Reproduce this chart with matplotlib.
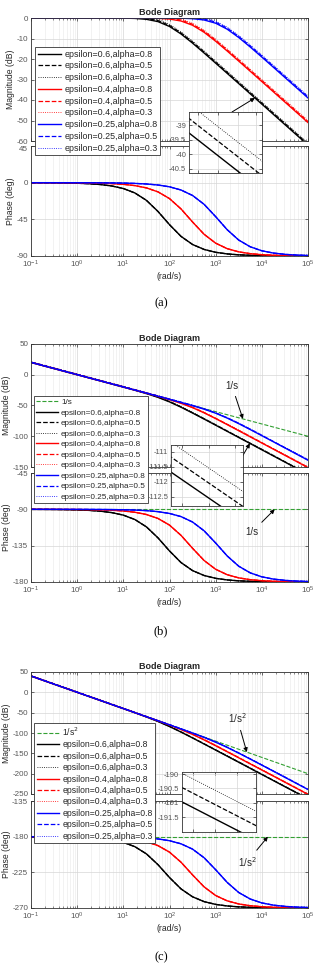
import numpy as np
import matplotlib.pyplot as plt
from matplotlib import ticker

plt.rcParams['font.family'] = ['Liberation Sans', 'DejaVu Sans']
plt.rcParams['axes.unicode_minus'] = False

# frequency grid (rad/s)
w = [0.1, 0.1778, 0.3162, 0.5623, 1, 1.778, 3.162, 5.623, 10, 17.78, 31.62, 56.23,
     100, 177.8, 316.2, 562.3, 1000, 1778, 3162, 5623, 10000, 17783, 31623, 56234, 100000]
xticks_main = [0.1, 1, 10, 100, 1000, 10000, 100000]

eps_list = [0.6, 0.4, 0.25]
alpha_list = [0.8, 0.5, 0.3]
alpha_shift_db = [0.0, 0.5, 1.0]   # gap between the alpha curves read in the zoom boxes

# (a) magnitude / phase
mag_a_e06 = [0, 0, 0, 0, 0, 0, -0.01, -0.02, -0.07, -0.21, -0.64, -1.76, -4.13, -7.79, -12.27,
             -17.09, -22.03, -27.01, -32.0, -37.0, -42.0, -47.0, -52.0, -57.0, -62.0]
mag_a_e04 = [0, 0, 0, 0, 0, 0, 0, 0, -0.01, -0.02, -0.05, -0.17, -0.52, -1.46, -3.54,
             -6.97, -11.33, -16.11, -21.03, -26.01, -31.0, -36.0, -41.0, -46.0, -51.0]
mag_a_e025 = [0, 0, 0, 0, 0, 0, 0, 0, 0, 0, 0, -0.01, -0.03, -0.11, -0.33,
              -0.97, -2.54, -5.46, -9.52, -14.17, -19.05, -24.02, -29.01, -34.0, -39.0]
ph_a_e06 = [-0.07, -0.13, -0.23, -0.41, -0.72, -1.28, -2.28, -4.05, -7.18, -12.62, -21.7, -35.3,
            -51.54, -65.93, -75.9, -81.96, -85.46, -87.44, -88.56, -89.19, -89.55, -89.74, -89.86, -89.92, -89.95]
ph_a_e04 = [-0.02, -0.04, -0.06, -0.11, -0.2, -0.36, -0.64, -1.14, -2.03, -3.61, -6.4, -11.28,
            -19.53, -32.25, -48.29, -63.38, -74.26, -80.99, -84.91, -87.13, -88.39, -89.09, -89.49, -89.71, -89.84]
ph_a_e025 = [-0.01, -0.01, -0.02, -0.03, -0.05, -0.09, -0.16, -0.29, -0.51, -0.91, -1.61, -2.87,
             -5.09, -9.01, -15.74, -26.62, -41.71, -57.75, -70.47, -78.72, -83.6, -86.39, -87.97, -88.86, -89.36]

# (b) with 1/s
mag_b_ref = [20, 15, 10, 5, 0, -5, -10, -15, -20, -25, -30, -35, -40, -45, -50,
             -55, -60, -65, -70, -75, -80, -85, -90, -95, -100]
ph_b_ref = [-90, -90, -90, -90, -90, -90, -90, -90, -90, -90, -90, -90, -90, -90, -90,
            -90, -90, -90, -90, -90, -90, -90, -90, -90, -90]
mag_b_e06 = [20, 15, 10, 5, 0, -5, -10.01, -15.02, -20.07, -25.21, -30.64, -36.76, -44.13, -52.79, -62.27,
             -72.09, -82.03, -92.01, -102.0, -112.0, -122.0, -132.0, -142.0, -152.0, -162.0]
mag_b_e04 = [20, 15, 10, 5, 0, -5, -10, -15, -20.01, -25.02, -30.05, -35.17, -40.52, -46.46, -53.54,
             -61.97, -71.33, -81.11, -91.03, -101.01, -111.0, -121.0, -131.0, -141.0, -151.0]
mag_b_e025 = [20, 15, 10, 5, 0, -5, -10, -15, -20, -25, -30, -35.01, -40.03, -45.11, -50.33,
              -55.97, -62.54, -70.46, -79.52, -89.17, -99.05, -109.02, -119.01, -129.0, -139.0]
ph_b_e06 = [-90.07, -90.13, -90.23, -90.41, -90.72, -91.28, -92.28, -94.05, -97.18, -102.62, -111.7, -125.3,
            -141.54, -155.93, -165.9, -171.96, -175.46, -177.44, -178.56, -179.19, -179.55, -179.74, -179.86, -179.92, -179.95]
ph_b_e04 = [-90.02, -90.04, -90.06, -90.11, -90.2, -90.36, -90.64, -91.14, -92.03, -93.61, -96.4, -101.28,
            -109.53, -122.25, -138.29, -153.38, -164.26, -170.99, -174.91, -177.13, -178.39, -179.09, -179.49, -179.71, -179.84]
ph_b_e025 = [-90.01, -90.01, -90.02, -90.03, -90.05, -90.09, -90.16, -90.29, -90.51, -90.91, -91.61, -92.87,
             -95.09, -99.01, -105.74, -116.62, -131.71, -147.75, -160.47, -168.72, -173.6, -176.39, -177.97, -178.86, -179.36]

# (c) with 1/s^2
mag_c_ref = [40, 30, 20, 10, 0, -10, -20, -30, -40, -50, -60, -70, -80, -90, -100,
             -110, -120, -130, -140, -150, -160, -170, -180, -190, -200]
ph_c_ref = [-180, -180, -180, -180, -180, -180, -180, -180, -180, -180, -180, -180, -180, -180, -180,
            -180, -180, -180, -180, -180, -180, -180, -180, -180, -180]
mag_c_e06 = [40, 30, 20, 10, 0, -10, -20.01, -30.02, -40.07, -50.21, -60.64, -71.76, -84.13, -97.79, -112.27,
             -127.09, -142.03, -157.01, -172.0, -187.0, -202.0, -217.0, -232.0, -247.0, -262.0]
mag_c_e04 = [40, 30, 20, 10, 0, -10, -20, -30, -40.01, -50.02, -60.05, -70.17, -80.52, -91.46, -103.54,
             -116.97, -131.33, -146.11, -161.03, -176.01, -191.0, -206.0, -221.0, -236.0, -251.0]
mag_c_e025 = [40, 30, 20, 10, 0, -10, -20, -30, -40, -50, -60, -70.01, -80.03, -90.11, -100.33,
              -110.97, -122.54, -135.46, -149.52, -164.17, -179.05, -194.02, -209.01, -224.0, -239.0]
ph_c_e06 = [-180.07, -180.13, -180.23, -180.41, -180.72, -181.28, -182.28, -184.05, -187.18, -192.62, -201.7, -215.3,
            -231.54, -245.93, -255.9, -261.96, -265.46, -267.44, -268.56, -269.19, -269.55, -269.74, -269.86, -269.92, -269.95]
ph_c_e04 = [-180.02, -180.04, -180.06, -180.11, -180.2, -180.36, -180.64, -181.14, -182.03, -183.61, -186.4, -191.28,
            -199.53, -212.25, -228.29, -243.38, -254.26, -260.99, -264.91, -267.13, -268.39, -269.09, -269.49, -269.71, -269.84]
ph_c_e025 = [-180.01, -180.01, -180.02, -180.03, -180.05, -180.09, -180.16, -180.29, -180.51, -180.91, -181.61, -182.87,
             -185.09, -189.01, -195.74, -206.62, -221.71, -237.75, -250.47, -258.72, -263.6, -266.39, -267.97, -268.86, -269.36]

colors = ['k', 'r', 'b']
styles = ['-', '--', ':']
widths = [1.0, 0.9, 0.6]
green = '#33a033'
gray = '#555555'
dark = '#262626'

W, H = 315, 968

def box(x0, y0, x1, y1):
    # pixel box -> figure fraction
    return [x0 / W, 1 - y1 / H, (x1 - x0) / W, (y1 - y0) / H]

def style_ax(ax, fs=5.8):
    ax.set_xscale('log')
    ax.grid(True, which='major', color='#d6d6d6', lw=0.5)
    ax.grid(True, which='minor', axis='x', color='#e8e8e8', lw=0.4)
    ax.tick_params(which='both', direction='in', top=True, right=True,
                   labelsize=fs, color='#333333', labelcolor=gray, pad=2)
    ax.tick_params(which='major', length=2.5, width=0.5)
    ax.tick_params(which='minor', length=1.4, width=0.4)
    for s in ax.spines.values():
        s.set_color('#333333')
        s.set_linewidth(0.6)
    ax.set_axisbelow(True)

panels = [
    dict(cap='(a)', mags=[mag_a_e06, mag_a_e04, mag_a_e025], phs=[ph_a_e06, ph_a_e04, ph_a_e025],
         ref=None, ref_label=None,
         mag=(31, 18, 308, 141), ph=(31, 146, 308, 256), ins=(189, 112, 262, 173),
         leg=(35, 47), legfs=6.4, legsp=0.31, capy=303, top_lab_down=True,
         mylim=(-60, 0), myt=[-60, -50, -40, -30, -20, -10, 0],
         plim=(-90, 45), pyt=[-90, -45, 0, 45],
         ixlim=(7304, 9162), iylim=(-40.65, -38.55), iyt=[-40.5, -40, -39.5, -39], ixt=[7500, 8000, 8500, 9000],
         arr_in=((232, 112), (7080, -39.0)), ref_arr=None),
    dict(cap='(b)', mags=[mag_b_e06, mag_b_e04, mag_b_e025], phs=[ph_b_e06, ph_b_e04, ph_b_e025],
         ref=(mag_b_ref, ph_b_ref), ref_label='1/s',
         mag=(31, 344, 308, 467), ph=(31, 473, 308, 582), ins=(171, 445, 243, 506),
         leg=(34, 396), legfs=5.9, legsp=0.34, capy=631, top_lab_down=False,
         mylim=(-150, 50), myt=[-150, -100, -50, 0, 50],
         plim=(-180, -45), pyt=[-180, -135, -90, -45],
         ixlim=(5518, 6066), iylim=(-112.8, -110.77), iyt=[-112.5, -112, -111.5, -111], ixt=[5600, 5800, 6000],
         arr_in=((242, 457), (5500, -111.6)),
         ref_arr=[((232, 386), (3890, -71.8)), ((252, 532), (19000, -90))]),
    dict(cap='(c)', mags=[mag_c_e06, mag_c_e04, mag_c_e025], phs=[ph_c_e06, ph_c_e04, ph_c_e025],
         ref=(mag_c_ref, ph_c_ref), ref_label='1/s$^2$',
         mag=(31, 672, 308, 794), ph=(31, 801, 308, 908), ins=(182, 772, 256, 832),
         leg=(34, 723), legfs=6.2, legsp=0.28, capy=957, top_lab_down=False,
         mylim=(-250, 50), myt=[-250, -200, -150, -100, -50, 0, 50],
         plim=(-270, -135), pyt=[-270, -225, -180, -135],
         ixlim=(6549, 6891), iylim=(-192.02, -189.93), iyt=[-191.5, -191, -190.5, -190], ixt=[6600, 6700, 6800],
         arr_in=((242, 780), (7760, -195.4)),
         ref_arr=[((237, 718), (4730, -147)), ((247, 862), (13500, -180))]),
]

fig = plt.figure(figsize=(W / 100, H / 100), dpi=100)
arrow_kw = dict(arrowstyle='-|>', color='k', lw=0.7, mutation_scale=6, shrinkA=0, shrinkB=0)

for p in panels:
    ax_m = fig.add_axes(box(*p['mag']))
    ax_p = fig.add_axes(box(*p['ph']))
    ax_i = fig.add_axes(box(*p['ins']))
    ax_m.set_zorder(3)
    ax_p.set_zorder(2)
    ax_i.set_zorder(4)
    for ax in (ax_m, ax_p):
        style_ax(ax)
    style_ax(ax_i, fs=5.4)

    if p['ref'] is not None:
        ax_m.plot(w, p['ref'][0], '--', color=green, lw=0.8, label=p['ref_label'])
        ax_p.plot(w, p['ref'][1], '--', color=green, lw=0.8)

    for e, col, mag, ph in zip(eps_list, colors, p['mags'], p['phs']):
        for a, ls, lw, sh in zip(alpha_list, styles, widths, alpha_shift_db):
            m = np.array(mag) + sh
            ax_m.plot(w, m, ls, color=col, lw=lw, label='epsilon=%g,alpha=%g' % (e, a))
            ax_p.plot(w, ph, ls, color=col, lw=lw)
            ax_i.plot(w, m, ls, color=col, lw=lw)

    for ax in (ax_m, ax_p):
        ax.set_xlim(0.1, 1e5)
        ax.xaxis.set_major_locator(ticker.FixedLocator(xticks_main))
        ax.xaxis.set_major_formatter(ticker.LogFormatterSciNotation())
    ax_m.set_ylim(*p['mylim'])
    ax_m.set_yticks(p['myt'])
    ax_m.tick_params(labelbottom=False)
    ax_p.set_ylim(*p['plim'])
    ax_p.set_yticks(p['pyt'])
    if p['top_lab_down']:
        # top phase label sits just under the magnitude box
        ax_p.yaxis.get_major_ticks()[-1].label1.set_verticalalignment('top')

    ax_m.set_title('Bode Diagram', fontsize=6.5, fontweight='bold', color=dark, pad=2)
    ax_m.set_ylabel('Magnitude (dB)', fontsize=6.2, color=dark, labelpad=1)
    ax_p.set_ylabel('Phase (deg)', fontsize=6.2, color=dark, labelpad=1)
    ax_p.set_xlabel('(rad/s)', fontsize=6.2, color=dark, labelpad=1.5)

    # zoom box
    ax_i.set_xlim(*p['ixlim'])
    ax_i.set_ylim(*p['iylim'])
    ax_i.xaxis.set_major_locator(ticker.FixedLocator(p['ixt']))
    ax_i.xaxis.set_minor_locator(ticker.NullLocator())
    ax_i.xaxis.set_major_formatter(ticker.NullFormatter())
    ax_i.set_yticks(p['iyt'])
    ax_i.yaxis.set_major_formatter(ticker.FormatStrFormatter('%g'))

    leg = ax_m.legend(loc='upper left', bbox_to_anchor=(p['leg'][0] / W, 1 - p['leg'][1] / H),
                      bbox_transform=fig.transFigure, fontsize=p['legfs'], frameon=True,
                      fancybox=False, framealpha=1, edgecolor='#333333', borderpad=0.3,
                      labelspacing=p['legsp'], handlelength=2.6, handletextpad=0.4, borderaxespad=0)
    leg.get_frame().set_linewidth(0.6)
    for t in leg.get_texts():
        t.set_color(dark)

    tail, head = p['arr_in']
    ax_m.annotate('', xy=head, xycoords='data', xytext=(tail[0] / W, 1 - tail[1] / H),
                  textcoords='figure fraction', arrowprops=arrow_kw)
    if p['ref_arr'] is not None:
        for ax, (tail, head) in zip((ax_m, ax_p), p['ref_arr']):
            ax.annotate(p['ref_label'], xy=head, xycoords='data', xytext=(tail[0] / W, 1 - tail[1] / H),
                        textcoords='figure fraction', ha='center', va='center', fontsize=7, color=dark,
                        arrowprops=dict(arrowstyle='-|>', color='k', lw=0.7, mutation_scale=6,
                                        shrinkA=2, shrinkB=0))

    fig.text(161 / W, 1 - p['capy'] / H, p['cap'], family=['Liberation Serif', 'DejaVu Serif'],
             fontsize=9, ha='center', va='center', color='k')

fig.savefig('out.png', dpi=100)
